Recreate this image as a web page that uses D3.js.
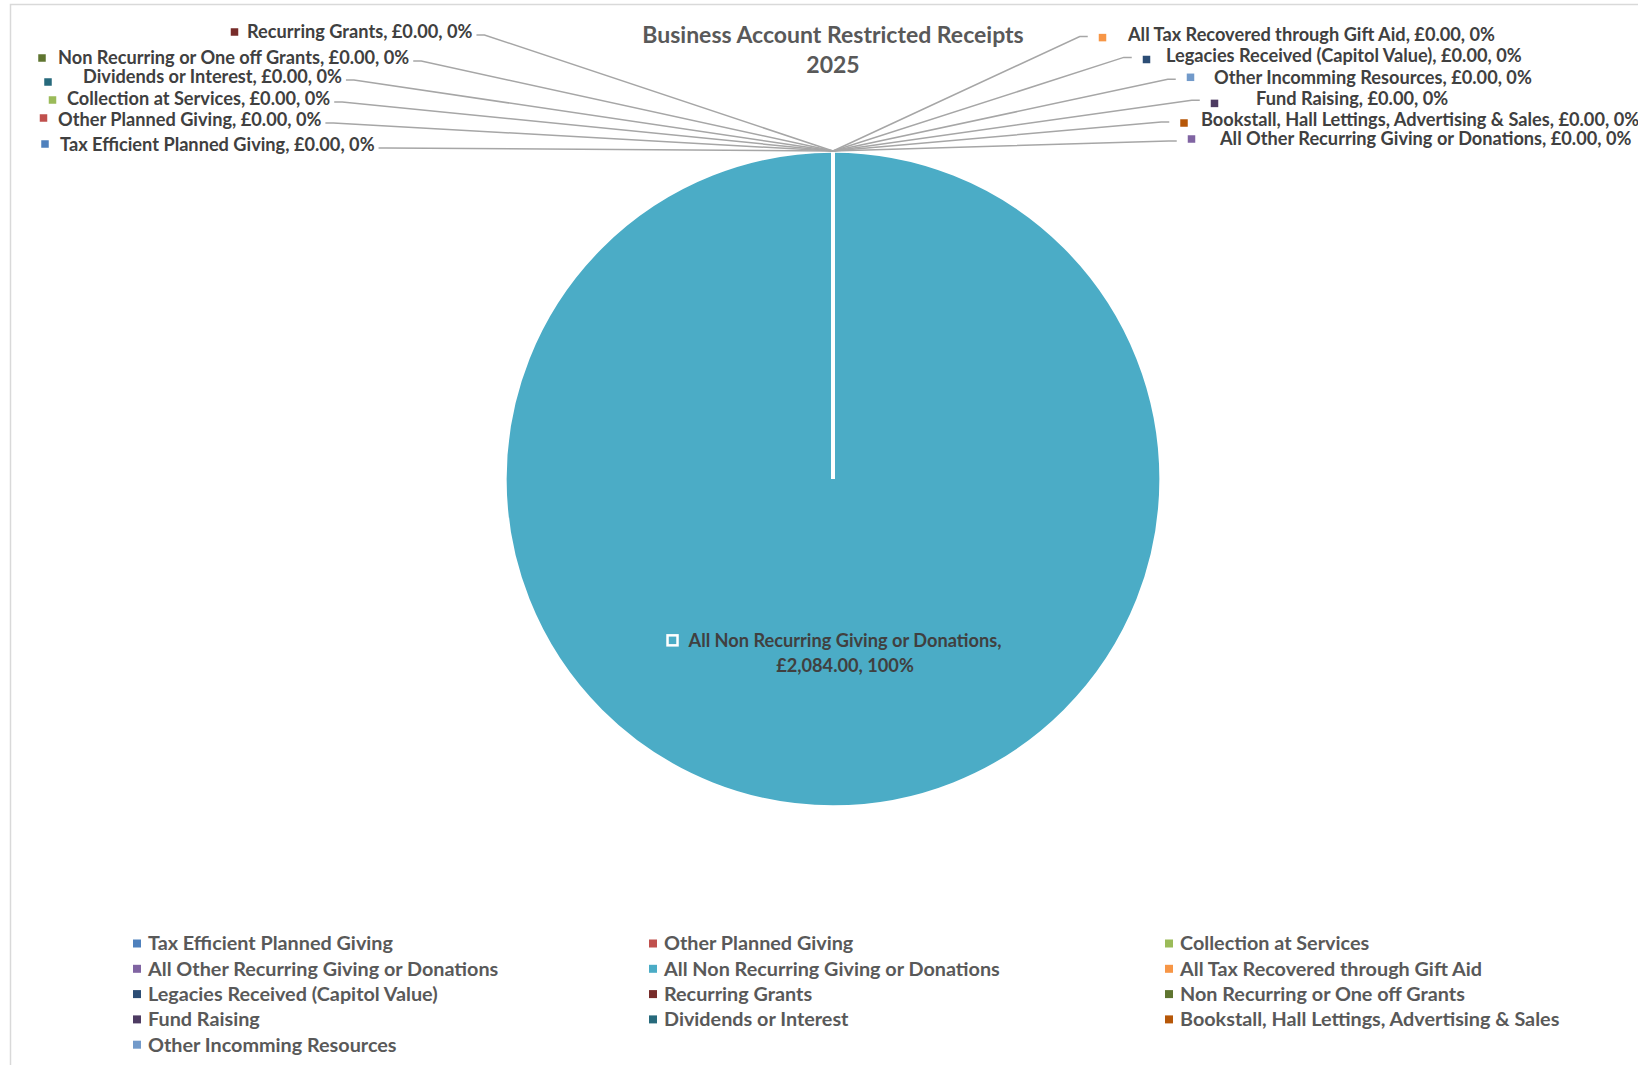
<!DOCTYPE html>
<html>
<head>
<meta charset="utf-8">
<script src="https://cdn.jsdelivr.net/npm/d3@7"></script>
<style>
  html, body { margin: 0; padding: 0; background: #ffffff; }
  svg { display: block; }
</style>
</head>
<body>
<script>
// ---------- DATA ----------
const title = ["Business Account Restricted Receipts", "2025"];
const categories = [
  "Tax Efficient Planned Giving",
  "Other Planned Giving",
  "Collection at Services",
  "All Other Recurring Giving or Donations",
  "All Non Recurring Giving or Donations",
  "All Tax Recovered through Gift Aid",
  "Legacies Received (Capitol Value)",
  "Recurring Grants",
  "Non Recurring or One off Grants",
  "Fund Raising",
  "Dividends or Interest",
  "Bookstall, Hall Lettings, Advertising & Sales",
  "Other Incomming Resources"
];
const values = [0, 0, 0, 0, 2084, 0, 0, 0, 0, 0, 0, 0, 0];
const colors = [
  "#4F81BD", "#C0504D", "#9BBB59", "#8064A2", "#4BACC6", "#F79646",
  "#2C4D75", "#772C2A", "#5F7530", "#4D3B62", "#276A7C", "#B65708", "#729ACA"
];

// ---------- LABEL LAYOUT (Excel's manual label placement) ----------
// side, marker centre (mx,my), text start x (tx), text centre y (ty)
const labelLayout = [
  {side: "L", mx: 45,    my: 144,  tx: 60,   ty: 145},   // Tax Efficient
  {side: "L", mx: 43.5,  my: 118,  tx: 58,   ty: 120},   // Other Planned
  {side: "L", mx: 52.5,  my: 100,  tx: 67,   ty: 99},    // Collection
  {side: "R", mx: 1191.5,my: 139,  tx: 1220, ty: 139},   // All Other Recurring
  null,                                                   // main slice (inside)
  {side: "R", mx: 1102.5,my: 37.6, tx: 1128, ty: 34.5},  // Gift Aid
  {side: "R", mx: 1146.5,my: 59.5, tx: 1166, ty: 55.4},  // Legacies
  {side: "L", mx: 234.5, my: 32,   tx: 247,  ty: 32},    // Recurring Grants
  {side: "L", mx: 42,    my: 58,   tx: 58,   ty: 58},    // Non Recurring Grants
  {side: "R", mx: 1214.5,my: 103.4,tx: 1256, ty: 98.2},  // Fund Raising
  {side: "L", mx: 48,    my: 82,   tx: 83,   ty: 77},    // Dividends
  {side: "R", mx: 1184,  my: 123,  tx: 1201, ty: 120},   // Bookstall
  {side: "R", mx: 1190.5,my: 77.3, tx: 1214, ty: 77.3}   // Other Incomming
];

// ---------- SETUP ----------
const W = 1638, H = 1065;
const cx = 833, cy = 479, R = 328;
const FONT = "Lato, 'Open Sans', 'Liberation Sans', sans-serif";
const LABEL_SIZE = 18.2, LEGEND_SIZE = 19.8, TITLE_SIZE = 23;

const svg = d3.select("body").append("svg")
  .attr("width", W).attr("height", H)
  .style("font-family", FONT);

svg.append("rect").attr("x", 0).attr("y", 0).attr("width", W).attr("height", H).attr("fill", "#fff");
svg.append("rect").attr("x", 10.5).attr("y", 4.5).attr("width", W + 20).attr("height", H + 20)
  .attr("fill", "none").attr("stroke", "#d9d9d9").attr("stroke-width", 1.5);

// Title
svg.append("g").selectAll("text").data(title).join("text")
  .attr("x", cx).attr("y", (d, i) => 34.5 + i * 30.5)
  .attr("dy", "0.35em")
  .attr("text-anchor", "middle")
  .attr("font-size", TITLE_SIZE).attr("font-weight", 700)
  .attr("fill", "#595959")
  .text(d => d);

const data = categories.map((c, i) => ({name: c, value: values[i], color: colors[i], layout: labelLayout[i], idx: i}));
const total = d3.sum(values);
const fmtMoney = v => "£" + d3.format(",.2f")(v);
const fmtPct = d3.format(".0%");

const pie = d3.pie().value(d => d.value).sort(null);
const arcs = pie(data);
const arc = d3.arc().innerRadius(0).outerRadius(R);
const edgeArc = d3.arc().innerRadius(R).outerRadius(R);
const insideArc = d3.arc().innerRadius(R * 0.53).outerRadius(R * 0.53);

const g = svg.append("g").attr("transform", `translate(${cx},${cy})`);
g.selectAll("path").data(arcs).join("path")
  .attr("d", arc)
  .attr("fill", d => d.data.color)
  .attr("stroke", "#ffffff")
  .attr("stroke-width", 3.5)
  .attr("stroke-linejoin", "miter");

// Data labels for zero slices (outside with leader lines)
const labelsG = svg.append("g");
const outside = arcs.filter(d => d.data.layout);
outside.forEach(d => {
  const L = d.data.layout;
  const txt = `${d.data.name}, ${fmtMoney(d.data.value)}, ${fmtPct(d.data.value / total)}`;
  const t = labelsG.append("text")
    .attr("x", L.tx).attr("y", L.ty).attr("dy", "0.35em")
    .attr("font-size", LABEL_SIZE).attr("font-weight", 700)
    .attr("fill", "#404040")
    .text(txt);
  labelsG.append("rect")
    .attr("x", L.mx - 3.75).attr("y", L.my - 3.75)
    .attr("width", 7.5).attr("height", 7.5)
    .attr("fill", d.data.color);
  const anchor = edgeArc.centroid(d);
  const ax = cx + anchor[0], ay = cy + anchor[1];
  let ex, ey, hx;
  if (L.side === "L") {
    const w = t.node().getComputedTextLength();
    ex = L.tx + w + 4; ey = L.ty + 3; hx = ex + 8;
  } else {
    ex = L.mx - 3.75 - 11; ey = L.ty + 2; hx = ex - 8;
  }
  labelsG.insert("path", ":first-child")
    .attr("d", d3.line()([[ex, ey], [hx, ey], [ax, ay]]))
    .attr("fill", "none").attr("stroke", "#a6a6a6").attr("stroke-width", 1.5);
});

// Inside label for the main slice
arcs.filter(d => !d.data.layout).forEach(d => {
  const c = insideArc.centroid(d);
  const lx = cx + c[0] + 12, ly = cy + c[1];
  const lines = [d.data.name + ",", `${fmtMoney(d.data.value)}, ${fmtPct(d.data.value / total)}`];
  const tg = svg.append("g");
  tg.selectAll("text").data(lines).join("text")
    .attr("x", lx).attr("y", (s, i) => ly + (i - 0.5) * 25)
    .attr("dy", "0.35em").attr("text-anchor", "middle")
    .attr("font-size", LABEL_SIZE).attr("font-weight", 700)
    .attr("fill", "#404040")
    .text(s => s);
  const w1 = tg.select("text").node().getComputedTextLength();
  tg.append("rect")
    .attr("x", lx - w1 / 2 - 21).attr("y", ly - 12.5 - 5)
    .attr("width", 10).attr("height", 10)
    .attr("fill", d.data.color).attr("stroke", "#ffffff").attr("stroke-width", 2.5);
});

// Legend
const legendCols = 3, colW = 516, rowH = 25.3, legX = 133, legY = 943.5;
const lg = svg.append("g").selectAll("g").data(data).join("g")
  .attr("transform", (d, i) => `translate(${legX + (i % legendCols) * colW},${legY + Math.floor(i / legendCols) * rowH})`);
lg.append("rect").attr("x", 0).attr("y", -4).attr("width", 8).attr("height", 8).attr("fill", d => d.color);
lg.append("text").attr("x", 15).attr("y", 0).attr("dy", "0.35em")
  .attr("font-size", LEGEND_SIZE).attr("font-weight", 700).attr("fill", "#595959")
  .text(d => d.name);
</script>
</body>
</html>
